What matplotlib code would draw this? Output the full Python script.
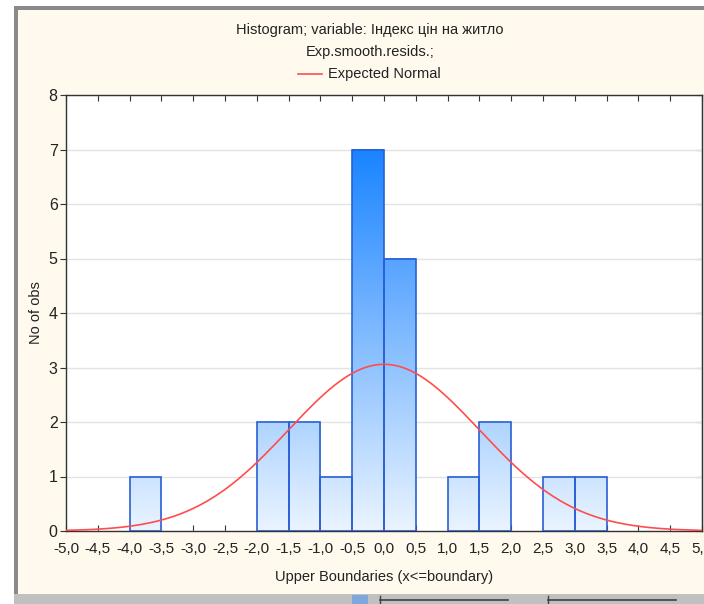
import numpy as np
import matplotlib
matplotlib.use("Agg")
import matplotlib.pyplot as plt
from matplotlib.patches import Rectangle
from matplotlib.lines import Line2D
from matplotlib.colors import LinearSegmentedColormap

plt.rcParams['font.family'] = ['Liberation Sans', 'DejaVu Sans']

# histogram data (upper boundaries of 0.5 wide bins)
upper_bounds = [-4.5, -4.0, -3.5, -3.0, -2.5, -2.0, -1.5, -1.0, -0.5, 0.0,
                0.5, 1.0, 1.5, 2.0, 2.5, 3.0, 3.5, 4.0, 4.5, 5.0]
counts = [0, 0, 1, 0, 0, 0, 2, 2, 1, 7, 5, 0, 1, 2, 0, 1, 1, 0, 0, 0]
bin_width = 0.5

# expected normal parameters
n_obs = 23
norm_mean = 0.0
norm_sd = 1.5

x_ticks = [-5.0, -4.5, -4.0, -3.5, -3.0, -2.5, -2.0, -1.5, -1.0, -0.5, 0.0,
           0.5, 1.0, 1.5, 2.0, 2.5, 3.0, 3.5, 4.0, 4.5, 5.0]
y_ticks = [0, 1, 2, 3, 4, 5, 6, 7, 8]

W, H = 704, 604
fig = plt.figure(figsize=(W / 100, H / 100), dpi=100)
fig.patch.set_facecolor('white')


def frect(x0, y0, x1, y1, color, z=0):
    # rectangle in image pixel coords (origin top-left)
    fig.add_artist(Rectangle((x0 / W, 1 - y1 / H), (x1 - x0) / W, (y1 - y0) / H,
                             transform=fig.transFigure, facecolor=color,
                             edgecolor='none', zorder=z))


def fline(x0, y0, x1, y1, color, lw=1.0):
    fig.add_artist(Line2D([x0 / W, x1 / W], [1 - y0 / H, 1 - y1 / H],
                          transform=fig.transFigure, color=color, lw=lw))


# window frame
frect(14, 6, W, 594, '#FFF9EE', -2)
frect(14, 6, W, 10, '#8A8A8A', -1)
frect(14, 6, 18, 594, '#8A8A8A', -1)
frect(14, 594, W, H, '#C0C0C0', -1)
frect(352, 595, 368, 604, '#7FA7DC', 0)
fline(380, 600, 508, 600, '#404040', 1.2)
fline(548, 600, 676, 600, '#404040', 1.2)
fline(380, 596, 380, 604, '#404040', 1)
fline(548, 596, 548, 604, '#404040', 1)

ax = fig.add_axes([66 / W, 73 / H, 636 / W, 436 / H])
ax.set_facecolor('white')

cmap = LinearSegmentedColormap.from_list('bars', ['#EAF4FF', '#1A84FF'])
for ub, c in zip(upper_bounds, counts):
    if c == 0:
        continue
    left = ub - bin_width
    grad = np.linspace(0, c, 200).reshape(-1, 1)
    ax.imshow(grad, cmap=cmap, vmin=0, vmax=7, origin='lower', aspect='auto',
              extent=(left, ub, 0, c), zorder=2, interpolation='bilinear')
    ax.add_patch(Rectangle((left, 0), bin_width, c, facecolor='none',
                           edgecolor='#2A5FD6', lw=1.2, zorder=3))

xs = np.linspace(-5, 5, 400)
ys = n_obs * bin_width / (norm_sd * np.sqrt(2 * np.pi)) * \
    np.exp(-0.5 * ((xs - norm_mean) / norm_sd) ** 2)
ax.plot(xs, ys, color='#FF4D4D', lw=1.2, zorder=4)

ax.set_xlim(-5, 5)
ax.set_ylim(0, 8)
ax.set_xticks(x_ticks)
ax.set_xticklabels([f"{t:.1f}".replace('.', ',') for t in x_ticks], fontsize=11)
ax.set_yticks(y_ticks)
ax.set_yticklabels([str(t) for t in y_ticks], fontsize=11.5)
ax.yaxis.grid(True, color='#E3E3E3', lw=1, zorder=0)
ax.set_axisbelow(True)
ax.tick_params(axis='x', direction='in', top=True, length=4, pad=8,
               color='#333333', labelcolor='#222222')
ax.tick_params(axis='y', direction='out', length=4, pad=2,
               color='#333333', labelcolor='#222222')
for s in ax.spines.values():
    s.set_color('#333333')
    s.set_linewidth(1.0)

rax = ax.secondary_yaxis('right')
rax.set_yticks(y_ticks)
rax.tick_params(direction='in', length=4, labelright=False, color='#333333')

ax.set_xlabel('Upper Boundaries (x<=boundary)', fontsize=10.5, color='#222222',
              labelpad=10)
ax.set_ylabel('No of obs', fontsize=10.5, color='#222222', labelpad=4)

fig.text(370 / W, 1 - 30 / H, 'Histogram; variable: Індекс цін на житло',
         ha='center', va='center', fontsize=10.5, color='#222222')
fig.text(370 / W, 1 - 52 / H, 'Exp.smooth.resids.;',
         ha='center', va='center', fontsize=10.5, color='#222222')
fline(298, 74, 322, 74, '#FF4D4D', 1.2)
fig.text(328 / W, 1 - 74 / H, 'Expected Normal',
         ha='left', va='center', fontsize=10.5, color='#222222')

fig.savefig('out.png', dpi=100)
